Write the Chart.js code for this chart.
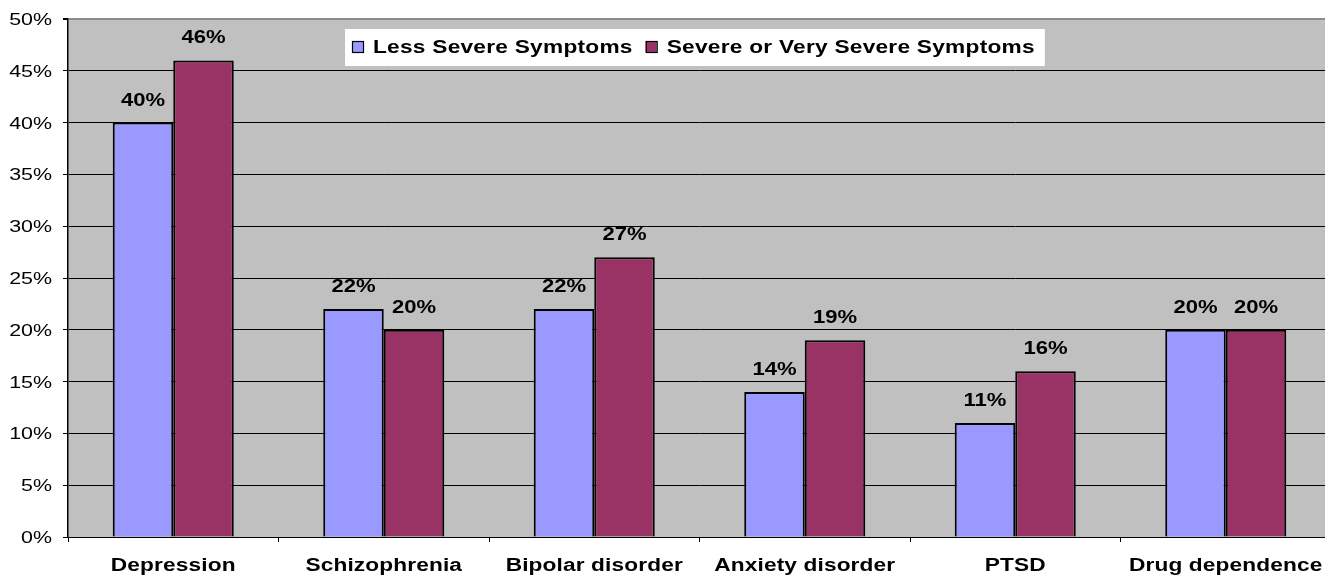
<!DOCTYPE html>
<html>
<head>
<meta charset="utf-8">
<script src="https://cdn.jsdelivr.net/npm/chart.js@4"></script>
<style>
  html, body { margin: 0; padding: 0; background: #fff; overflow: hidden; }
  #wrap { position: relative; width: 1331px; height: 575px; }
</style>
</head>
<body>
<div id="wrap"><canvas id="symptoms"></canvas></div>
<script>
// data
var categories = ["Depression", "Schizophrenia", "Bipolar disorder", "Anxiety disorder", "PTSD", "Drug dependence"];
var lessSevere = [40, 22, 22, 14, 11, 20];
var severe = [46, 20, 27, 19, 16, 20];
var seriesNames = ["Less Severe Symptoms", "Severe or Very Severe Symptoms"];
var yTicks = [0, 5, 10, 15, 20, 25, 30, 35, 40, 45, 50];

var FONT = "'Liberation Sans', Arial, sans-serif";
var STRETCH = 1.26; // the original picture is wider than it is tall

// text drawn a bit wider, like the source image
function wideText(ctx, text, x, y, align) {
  ctx.save();
  ctx.translate(x, y);
  ctx.scale(STRETCH, 1);
  ctx.textAlign = align;
  ctx.fillText(text, 0, 0);
  ctx.restore();
}

// gray plot background
var plotBackground = {
  id: "plotBackground",
  beforeDraw: function (chart) {
    var a = chart.chartArea;
    var ctx = chart.ctx;
    ctx.save();
    ctx.fillStyle = "#C0C0C0";
    ctx.fillRect(a.left, a.top, a.right - a.left, a.bottom - a.top);
    ctx.restore();
  },
};

// tick labels, value labels, category labels and the boxed legend
var extras = {
  id: "extras",
  afterDraw: function (chart) {
    var ctx = chart.ctx;
    ctx.save();
    ctx.fillStyle = "#000";
    ctx.textBaseline = "alphabetic";

    var ys = chart.scales.y;
    ctx.font = "17px " + FONT;
    yTicks.forEach(function (v) {
      wideText(ctx, v + "%", 52, ys.getPixelForValue(v) + 6, "right");
    });

    ctx.font = "bold 17.5px " + FONT;
    chart.data.datasets.forEach(function (ds, i) {
      chart.getDatasetMeta(i).data.forEach(function (bar, j) {
        wideText(ctx, ds.data[j] + "%", bar.x, bar.y - 17, "center");
      });
    });

    var xs = chart.scales.x;
    ctx.font = "bold 18px " + FONT;
    ctx.letterSpacing = "0.1px";
    categories.forEach(function (c, i) {
      wideText(ctx, c, xs.getPixelForValue(i), 571, "center");
    });

    // legend
    ctx.font = "bold 18px " + FONT;
    ctx.letterSpacing = "0.2px";
    var left = 345, top = 29, h = 37;
    var items = chart.data.datasets.map(function (ds) {
      return { label: ds.label, color: ds.backgroundColor };
    });
    var widths = items.map(function (it) { return ctx.measureText(it.label).width * STRETCH; });
    var total = 7 + 11 + 10 + widths[0] + 13 + 11 + 10 + widths[1] + 10;
    ctx.fillStyle = "#fff";
    ctx.fillRect(left, top, total, h);
    var x = left + 7;
    items.forEach(function (it, i) {
      ctx.fillStyle = it.color;
      ctx.fillRect(x, 41, 11, 11);
      ctx.strokeStyle = "#000";
      ctx.lineWidth = 1.2;
      ctx.strokeRect(x + 0.5, 41.5, 11, 11);
      ctx.fillStyle = "#000";
      wideText(ctx, it.label, x + 21, 53, "left");
      x += 11 + 10 + widths[i] + 13;
    });
    ctx.restore();
  },
};

var config = {
  type: "bar",
  data: {
    labels: categories,
    datasets: [
      {
        label: seriesNames[0],
        data: lessSevere,
        backgroundColor: "#9999FF",
        borderColor: "#000",
        borderWidth: 2,
      },
      {
        label: seriesNames[1],
        data: severe,
        backgroundColor: "#993366",
        borderColor: "#000",
        borderWidth: 2,
      },
    ],
  },
  options: {
    responsive: true,
    maintainAspectRatio: false,
    animation: false,
    layout: { padding: { top: 19, left: 0, right: 0, bottom: 0 } },
    datasets: {
      bar: { categoryPercentage: 0.575, barPercentage: 1.0 },
    },
    plugins: {
      legend: { display: false },
      tooltip: { enabled: false },
    },
    scales: {
      x: {
        afterFit: function (axis) { axis.height = 38; },
        grid: {
          offset: true,
          drawOnChartArea: false,
          drawTicks: true,
          tickLength: 5,
          color: "#000",
        },
        border: { color: "#000", width: 1 },
        ticks: { display: false },
      },
      y: {
        min: 0,
        max: 50,
        afterFit: function (axis) { axis.width = 68; },
        afterBuildTicks: function (axis) {
          axis.ticks = yTicks.map(function (v) { return { value: v }; });
        },
        grid: {
          color: function (c) { return c.tick && c.tick.value === 50 ? "#8C8C8C" : "#000"; },
          lineWidth: function (c) { return c.tick && c.tick.value === 50 ? 2 : 1; },
          tickLength: 5,
          tickColor: "#000",
        },
        border: { color: "#000", width: 1.5 },
        ticks: { display: false },
      },
    },
  },
  plugins: [plotBackground, extras],
};

new Chart(document.getElementById("symptoms").getContext("2d"), config);
</script>
</body>
</html>
